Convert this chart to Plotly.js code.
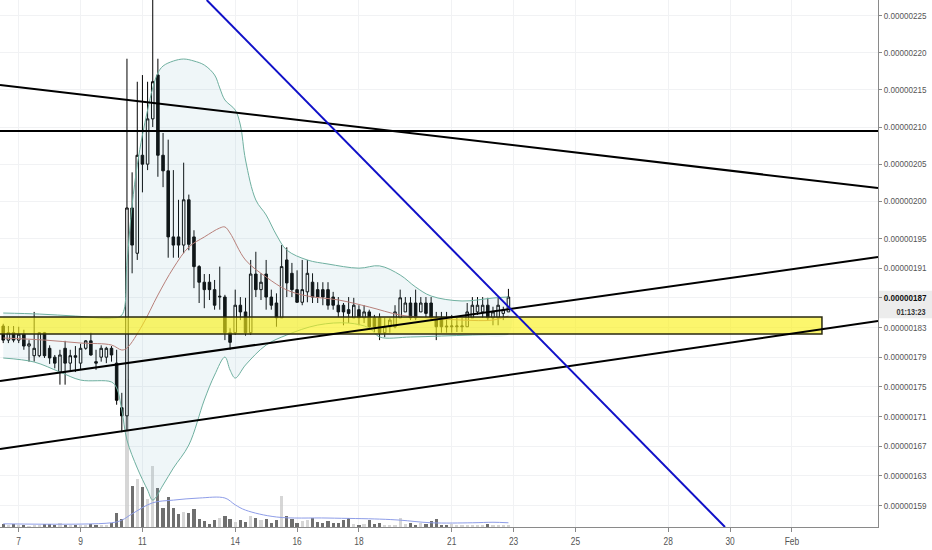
<!DOCTYPE html>
<html><head><meta charset="utf-8">
<script src="https://cdn.plot.ly/plotly-3.0.1.min.js"></script>
<style>html,body{margin:0;padding:0;background:#fff}#chart{width:932px;height:550px}</style>
</head><body><div id="chart"></div>
<script>
// 4-hour bars, prices in satoshi (1e-8 BTC)
const barTimes = [
'2018-01-06 12:00','2018-01-06 16:00','2018-01-06 20:00',
'2018-01-07 00:00','2018-01-07 04:00','2018-01-07 08:00','2018-01-07 12:00','2018-01-07 16:00','2018-01-07 20:00',
'2018-01-08 00:00','2018-01-08 04:00','2018-01-08 08:00','2018-01-08 12:00','2018-01-08 16:00','2018-01-08 20:00',
'2018-01-09 00:00','2018-01-09 04:00','2018-01-09 08:00','2018-01-09 12:00','2018-01-09 16:00','2018-01-09 20:00',
'2018-01-10 00:00','2018-01-10 04:00','2018-01-10 08:00','2018-01-10 12:00','2018-01-10 16:00','2018-01-10 20:00',
'2018-01-11 00:00','2018-01-11 04:00','2018-01-11 08:00','2018-01-11 12:00','2018-01-11 16:00','2018-01-11 20:00',
'2018-01-12 00:00','2018-01-12 04:00','2018-01-12 08:00','2018-01-12 12:00','2018-01-12 16:00','2018-01-12 20:00',
'2018-01-13 00:00','2018-01-13 04:00','2018-01-13 08:00','2018-01-13 12:00','2018-01-13 16:00','2018-01-13 20:00',
'2018-01-14 00:00','2018-01-14 04:00','2018-01-14 08:00','2018-01-14 12:00','2018-01-14 16:00','2018-01-14 20:00',
'2018-01-15 00:00','2018-01-15 04:00','2018-01-15 08:00','2018-01-15 12:00','2018-01-15 16:00','2018-01-15 20:00',
'2018-01-16 00:00','2018-01-16 04:00','2018-01-16 08:00','2018-01-16 12:00','2018-01-16 16:00','2018-01-16 20:00',
'2018-01-17 00:00','2018-01-17 04:00','2018-01-17 08:00','2018-01-17 12:00','2018-01-17 16:00','2018-01-17 20:00',
'2018-01-18 00:00','2018-01-18 04:00','2018-01-18 08:00','2018-01-18 12:00','2018-01-18 16:00','2018-01-18 20:00',
'2018-01-19 00:00','2018-01-19 04:00','2018-01-19 08:00','2018-01-19 12:00','2018-01-19 16:00','2018-01-19 20:00',
'2018-01-20 00:00','2018-01-20 04:00','2018-01-20 08:00','2018-01-20 12:00','2018-01-20 16:00','2018-01-20 20:00',
'2018-01-21 00:00','2018-01-21 04:00','2018-01-21 08:00','2018-01-21 12:00','2018-01-21 16:00','2018-01-21 20:00',
'2018-01-22 00:00','2018-01-22 04:00','2018-01-22 08:00','2018-01-22 12:00','2018-01-22 16:00','2018-01-22 20:00'
];
const openP = [183.2,181.3,182.3, 181.3,182.1,180.5,179.2,179.2,182.3, 180.2,179.0,177.0,180.2,178.2,179.2,
178.2,180.2,181.2,178.4,179.0,179.0, 180.2,178.2,172.2,171.1,199.1,193.0, 206.2,205.0,211.1,217.0,206.2,204.1,
195.2,195.2,194.1,200.2,195.2,191.2, 189.1,189.1,188.1,187.1,187.1,182.3, 182.3,186.0,185.1,182.3,190.2,188.1,
190.2,187.1,186.3,184.3,192.1,190.3, 188.1,186.4,187.8,189.1,188.1,188.1, 188.1,187.1,186.0,186.0,185.4,184.3,
185.4,184.3,185.1,184.3,184.3,182.3, 183.1,183.1,184.3,185.1,186.3,186.3, 185.1,186.3,186.3,184.3,184.3,183.2,
183.1,183.1,183.1,183.1,184.3,185.1, 185.1,186.0,184.3,184.3,184.9,185.1];
const highP = [183.5,183.2,183.2, 183.1,182.7,181.3,185.1,182.4,182.4, 180.6,179.3,180.0,181.2,180.0,180.5,
180.8,181.3,182.3,180.0,180.6,180.4, 180.5,180.0,174.2,219.2,203.9,216.1, 217.0,216.1,228.0,219.2,209.2,208.3,
204.2,200.2,205.2,200.9,196.1,191.4, 190.2,190.2,189.4,191.2,187.4,182.9, 188.1,187.1,187.0,192.1,193.2,190.3,
192.1,188.1,187.6,194.1,193.8,191.7, 190.7,192.1,192.1,190.3,189.1,189.1, 189.1,187.8,187.1,186.3,187.1,187.0,
186.0,186.0,185.4,184.7,184.9,184.3, 184.3,186.0,188.1,187.1,187.1,188.1, 187.1,187.1,187.1,185.1,185.1,185.1,
184.7,184.3,184.3,186.3,187.1,187.1, 187.1,187.0,185.8,187.0,185.8,188.2];
const lowP = [180.9,180.9,181.0, 180.9,180.0,178.4,178.4,179.0,178.9, 178.1,177.5,175.3,175.3,177.2,177.0,
177.3,180.0,179.2,177.3,178.4,178.2, 178.4,172.6,168.9,169.2,190.3,192.1, 201.2,204.2,210.0,203.3,201.9,192.4,
192.4,192.4,193.0,193.4,188.3,186.3, 185.6,186.7,185.4,185.4,181.3,180.0, 182.0,184.0,181.9,182.0,187.1,186.7,
185.4,185.4,183.1,184.3,187.1,187.1, 186.3,186.0,186.4,186.3,186.3,186.0, 185.4,185.4,184.4,183.3,183.6,184.3,
183.3,183.6,182.7,182.4,181.3,181.7, 182.3,182.9,184.3,185.1,184.0,184.0, 185.1,184.4,184.0,181.3,182.3,182.3,
182.3,182.4,182.4,183.1,184.3,184.7, 184.3,184.0,183.3,183.3,184.0,185.1];
const closeP = [181.3,182.3,181.3, 182.1,180.5,180.8,180.2,182.3,179.2, 178.9,178.2,179.3,178.2,179.2,179.0,
180.2,181.2,179.3,178.2,180.2,180.2, 179.3,173.2,171.1,199.1,194.1,206.2, 205.0,211.1,216.1,206.2,204.1,195.2,
194.1,194.1,200.2,194.2,191.2,189.1, 188.1,188.1,186.0,187.2,182.3,181.0, 186.0,185.1,182.3,190.2,188.1,189.1,
187.1,186.0,184.3,191.2,189.0,188.1, 186.4,188.1,190.3,187.1,187.1,187.1, 186.0,186.0,185.1,185.1,184.9,186.0,
184.3,185.1,183.1,183.1,182.3,183.1, 184.0,185.1,187.0,186.3,184.3,184.3, 186.3,184.9,184.3,183.1,183.1,183.1,
183.2,183.2,183.2,185.1,186.0,186.0, 186.0,184.3,185.1,186.0,185.4,187.1];
const volume = [0.6,0.3,0.6, 0.3,0.4,0.2,0.3,0.3,0.6, 0.6,0.3,0.8,0.4,0.3,0.3, 0.3,0.3,0.6,0.3,0.3,0.4,
0.8,2.7,1.5,28,7.8,9.1, 7.6,5.3,11.6,7.4,3.6,5.7, 3.6,2.5,2.9,2.7,3.4,1.5, 1.1,0.6,1.3,1.7,2.1,1.5,
1.0,1.3,1.0,2.1,1.7,1.3, 1.5,0.8,1.3,5.9,2.0,1.5, 0.8,1.2,1.3,1.7,1.0,0.8, 1.1,0.8,0.8,1.3,1.7,0.6,
0.4,0.6,1.3,0.6,0.8,0.4, 0.4,0.4,1.7,0.6,0.8,0.4, 0.8,0.6,1.2,1.5,0.4,0.4, 0.6,0.4,0.4,0.4,0.4,0.4,
0.4,0.6,0.4,0.4,0.4,0.4];
// bar index (0 = Jan 7 00:00) for indicator read-offs
const volMaIdx = [-3,18,20,22,26,30,35,40,42,44,50,60,70,74,80,88,92,95];
const volMaVal = [0.6,0.8,1.3,2.5,4.6,5.1,5.5,5.5,4.2,3.2,1.9,1.7,1.5,1.3,0.8,0.8,0.9,0.8];
const bbUpIdx = [-3,4,11,18,20,21,22,23,24,25,26,27,28,30,32,34,36,38,39,40,42,43,44,46,48,50,52,56,60,66,70,74,77,80,86,92,95];
const bbUpVal = [184.95,184.81,184.54,184.27,184.68,191.82,199.5,204.88,208.93,212.29,215.26,217.28,218.22,218.89,219.16,218.89,218.35,217.01,215.26,213.64,212.29,210.27,205.56,200.17,198.15,195.46,193.43,192.09,191.55,190.99,191.3,190.07,188.45,187.24,186.57,186.97,187.11];
const bbMidIdx = [-3,5,12,18,20,21,24,27,30,33,36,39,40,41,44,48,52,56,62,68,74,80,86,92,95];
const bbMidVal = [181.58,181.31,180.91,180.64,179.97,180.24,183.33,187.37,191.01,193.84,195.19,196.4,196.54,195.72,192.09,189.8,188.05,187.24,186.71,185.76,184.68,184.27,184.0,184.0,184.54];
const bbLoIdx = [-3,3,8,12,18,19,20,21,23,25,26,28,30,33,36,38,40,41,42,44,48,52,58,64,68,70,76,82,88,95];
const bbLoVal = [178.89,178.35,177.0,175.92,175.66,174.85,171.88,167.84,164.07,161.11,159.76,161.78,164.07,167.17,173.23,176.6,179.02,177.27,176.19,177.95,180.64,181.99,183.33,183.6,182.93,181.72,181.72,181.85,181.99,182.12];
// drawn objects (time, price)
const edgeTimes = ['2018-01-06 09:29','2018-02-03 18:46'];
const lineFalling = [215.66, 201.79];
const lineFlat = [209.47, 209.47];
const lineRiseUpper = [175.79, 192.49];
const lineRiseLower = [166.63, 183.87];
const blueTimes = ['2018-01-13 01:52','2018-01-29 20:02'];
const blueLine = [227.11, 156.13];
const zoneTimes = ['2018-01-05 00:00','2018-02-01 23:17'];
const zonePrices = [182.12, 184.41];
const lastPrice = 187.1;
const countdownText = '01:13:23';
// axes
const yRange = [156.13, 227.11];
const yTickVals = [225,220,215,210,205,200,195,191,187,183,179,175,171,167,163,159];
const yTickText = ['0.00000225','0.00000220','0.00000215','0.00000210','0.00000205','0.00000200','0.00000195','0.00000191','<b><span style="color:#111">0.00000187</span></b>','0.00000183','0.00000179','0.00000175','0.00000171','0.00000167','0.00000163','0.00000159'];
const xTickVals = ['2018-01-07','2018-01-09','2018-01-11','2018-01-14','2018-01-16','2018-01-18','2018-01-21','2018-01-23','2018-01-25','2018-01-28','2018-01-30','2018-02-01'];
const xTickText = ['7','9','11','14','16','18','21','23','25','28','30','Feb'];

const t = i => barTimes[i + 3];
const FONT = "'Liberation Sans',Arial,sans-serif";

const volColors = openP.map((o, i) => closeP[i] >= o ? 'rgba(200,200,200,0.75)' : 'rgba(95,95,95,0.9)');

const fillX = bbUpIdx.map(t).concat(bbLoIdx.slice().reverse().map(t));
const fillY = bbUpVal.concat(bbLoVal.slice().reverse());

const traces = [
  {type:'bar', x: barTimes, y: volume, yaxis:'y', xaxis:'x', marker:{color: volColors, line:{width:0}}, width: 4*3600*1000*0.62, hoverinfo:'skip'},
  {type:'scatter', mode:'lines', x: volMaIdx.map(t), y: volMaVal, yaxis:'y', line:{color:'#8e9de8', width:1, shape:'spline'}, hoverinfo:'skip'},
  {type:'scatter', mode:'lines', x: fillX, y: fillY, yaxis:'y2', fill:'toself', fillcolor:'rgba(120,185,200,0.12)', line:{width:0, shape:'spline'}, hoverinfo:'skip'},
  {type:'scatter', mode:'lines', x: bbLoIdx.map(t), y: bbLoVal, yaxis:'y2', line:{color:'#6fb0a0', width:1, shape:'spline'}, hoverinfo:'skip'},
  {type:'scatter', mode:'lines', x: bbUpIdx.map(t), y: bbUpVal, yaxis:'y2', line:{color:'#6fb0a0', width:1, shape:'spline'}, hoverinfo:'skip'},
  {type:'scatter', mode:'lines', x: bbMidIdx.map(t), y: bbMidVal, yaxis:'y2', line:{color:'#b8807a', width:1, shape:'spline'}, hoverinfo:'skip'},
  {type:'candlestick', x: barTimes, open: openP, high: highP, low: lowP, close: closeP, yaxis:'y2', xaxis:'x',
   increasing:{line:{color:'#000', width:1}, fillcolor:'#fff'},
   decreasing:{line:{color:'#000', width:1}, fillcolor:'#000'},
   whiskerwidth:0, hoverinfo:'skip'}
];

const lineShape = (x, y, color, w) => ({type:'line', xref:'x', yref:'y2', x0:x[0], x1:x[1], y0:y[0], y1:y[1], line:{color, width:w}});
const shapes = [
  {type:'rect', layer:'below', xref:'paper', yref:'y2', x0:1.0, x1:1.0615, y0:184.25, y1:187.95, fillcolor:'#ececec', line:{width:0}},
  {type:'rect', xref:'x', yref:'y2', x0: zoneTimes[0], x1: zoneTimes[1], y0: zonePrices[0], y1: zonePrices[1], fillcolor:'rgba(250,240,20,0.62)', line:{color:'#2a2a10', width:1.5}},
  lineShape(edgeTimes, lineFalling, '#000', 2),
  lineShape(edgeTimes, lineFlat, '#000', 2),
  lineShape(edgeTimes, lineRiseUpper, '#000', 2),
  lineShape(edgeTimes, lineRiseLower, '#000', 2),
  lineShape(blueTimes, blueLine, '#1010c8', 2)
];

const annotations = [
  {xref:'paper', yref:'y2', x:911/878, y:lastPrice, xanchor:'center', yanchor:'middle', yshift:-15, text:'<b>'+countdownText+'</b>', showarrow:false, font:{family:FONT, size:9, color:'#333'}}
];

const layout = {
  width:932, height:550,
  margin:{l:0, r:54, t:0, b:23, pad:0},
  paper_bgcolor:'#fff', plot_bgcolor:'#fff',
  showlegend:false, hovermode:false, bargap:0,
  xaxis:{type:'date', range:[edgeTimes[0], edgeTimes[1]], tickmode:'array', tickvals:xTickVals, ticktext:xTickText,
    ticks:'outside', ticklen:4, tickcolor:'#888', showline:true, linecolor:'#8a8a8a', linewidth:1, mirror:false,
    showgrid:true, gridcolor:'#f1f2f4', zeroline:false, rangeslider:{visible:false}, fixedrange:true,
    tickfont:{family:FONT, size:10.5, color:'#555'}},
  yaxis:{range:[0,100], visible:false, fixedrange:true, showgrid:false, zeroline:false},
  yaxis2:{overlaying:'y', side:'right', anchor:'x', range:yRange, tickmode:'array', tickvals:yTickVals, ticktext:yTickText,
    ticks:'outside', ticklen:3, tickcolor:'#888', showline:true, linecolor:'#8a8a8a', linewidth:1,
    showgrid:true, gridcolor:'#f1f2f4', zeroline:false, fixedrange:true,
    tickfont:{family:FONT, size:9, color:'#555'}},
  shapes, annotations
};

function squeeze(sel, f) {
  document.querySelectorAll(sel).forEach(el => {
    const w = el.getComputedTextLength();
    if (w > 0) { el.setAttribute('textLength', (w * f).toFixed(1)); el.setAttribute('lengthAdjust', 'spacingAndGlyphs'); }
  });
}

Plotly.newPlot('chart', traces, layout, {staticPlot:true, displayModeBar:false}).then(() => {
  squeeze('.xtick text', 0.8);
  squeeze('.y2tick text', 0.9);
  squeeze('.annotation-text', 0.8);
});
</script></body></html>
